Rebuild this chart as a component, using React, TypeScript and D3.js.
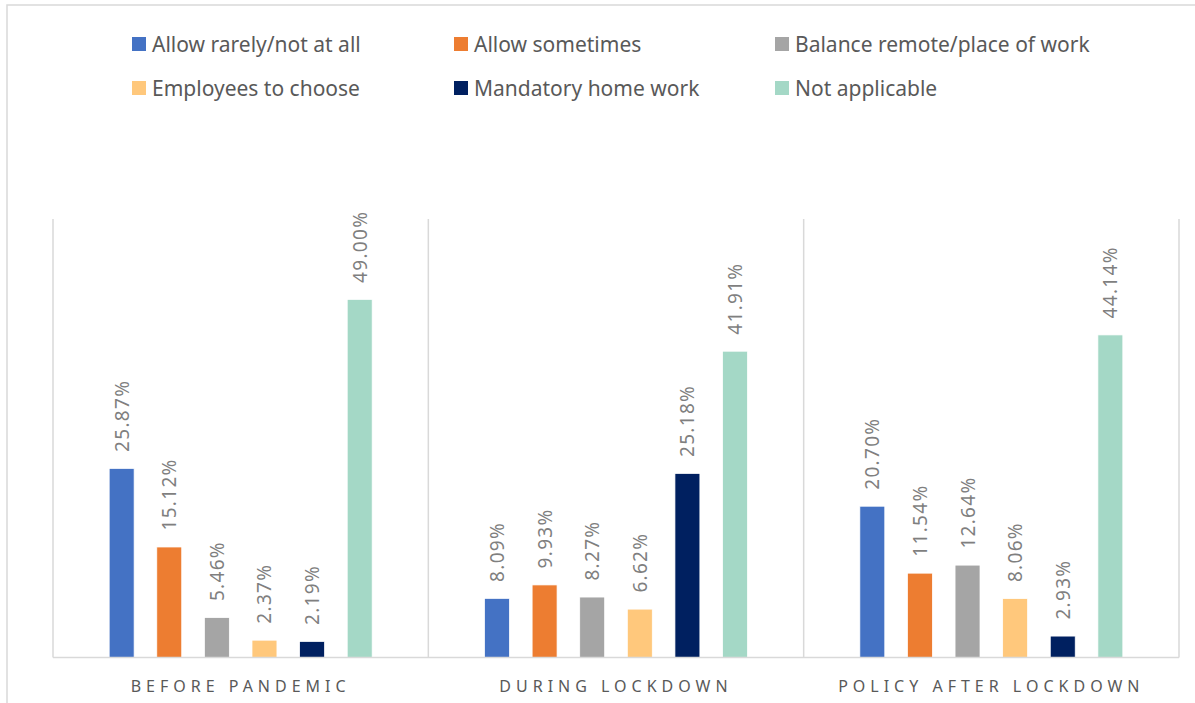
import React from "react";
import * as d3 from "d3";

const categories = ["BEFORE PANDEMIC", "DURING LOCKDOWN", "POLICY AFTER LOCKDOWN"];
const seriesNames = [
  "Allow rarely/not at all",
  "Allow sometimes",
  "Balance remote/place of work",
  "Employees to choose",
  "Mandatory home work",
  "Not applicable",
];
const seriesColors = ["#4472C4", "#ED7D31", "#A5A5A5", "#FFC87C", "#002060", "#A4D8C6"];
const beforePandemic = [25.87, 15.12, 5.46, 2.37, 2.19, 49.0];
const duringLockdown = [8.09, 9.93, 8.27, 6.62, 25.18, 41.91];
const policyAfterLockdown = [20.7, 11.54, 12.64, 8.06, 2.93, 44.14];
const groupValues = [beforePandemic, duringLockdown, policyAfterLockdown];

const W = 1195;
const H = 703;
const FONT = "'Noto Sans', 'Open Sans', sans-serif";

export default function App() {
  const plotLeft = 53;
  const plotRight = 1179;
  const x0 = d3.scaleBand<string>().domain(categories).range([plotLeft, plotRight]).padding(0);
  const x1 = d3
    .scaleBand<string>()
    .domain(seriesNames)
    .range([0, x0.bandwidth()])
    .paddingInner(0.476)
    .paddingOuter(1.18);
  const y = d3.scaleLinear().domain([0, 60]).range([657.5, 219]);

  const legendCols = [132, 454, 775];
  const legendRows = [44, 88];

  const dividers = [plotLeft, ...categories.map((c) => (x0(c) as number) + x0.bandwidth())];

  return (
    <svg
      width={W}
      height={H}
      style={{ position: "absolute", left: 0, top: 0, background: "#fff" }}
      fontFamily={FONT}
    >
      <rect x={7} y={5} width={W + 10} height={H + 10} fill="#fff" stroke="#D9D9D9" strokeWidth={1.5} />
      {/* legend */}
      {seriesNames.map((s, i) => {
        const cx = legendCols[i % 3];
        const cy = legendRows[Math.floor(i / 3)];
        return (
          <g key={s}>
            <rect x={cx} y={cy - 7} width={14} height={14} fill={seriesColors[i]} />
            <text x={cx + 20} y={cy} dominantBaseline="central" fontSize={21} fill="#595959">
              {s}
            </text>
          </g>
        );
      })}
      {/* vertical gridlines */}
      {dividers.map((d, i) => (
        <line key={i} x1={d} x2={d} y1={y(60)} y2={y(0)} stroke="#D9D9D9" strokeWidth={1.5} />
      ))}
      {/* bars */}
      {categories.map((c, gi) => (
        <g key={c} transform={`translate(${x0(c)},0)`}>
          {groupValues[gi].map((v, si) => {
            const bx = x1(seriesNames[si]) as number;
            const bw = x1.bandwidth();
            return (
              <g key={si}>
                <rect
                  x={bx}
                  y={y(v)}
                  width={bw}
                  height={y(0) - y(v)}
                  fill={seriesColors[si]}
                  stroke="#fff"
                  strokeWidth={0.75}
                />
                <text
                  transform={`translate(${bx + bw / 2},${y(v) - 16.5}) rotate(-90)`}
                  dominantBaseline="central"
                  fontSize={19}
                  letterSpacing={1.3}
                  fill="#7F7F7F"
                >
                  {v.toFixed(2) + "%"}
                </text>
              </g>
            );
          })}
        </g>
      ))}
      {/* baseline */}
      <line x1={plotLeft} x2={plotRight} y1={y(0)} y2={y(0)} stroke="#D9D9D9" strokeWidth={1.5} />
      {/* category labels */}
      {categories.map((c) => (
        <text
          key={c}
          x={(x0(c) as number) + x0.bandwidth() / 2}
          y={686}
          textAnchor="middle"
          dominantBaseline="central"
          fontSize={16}
          letterSpacing={5}
          fill="#595959"
        >
          {c}
        </text>
      ))}
    </svg>
  );
}
